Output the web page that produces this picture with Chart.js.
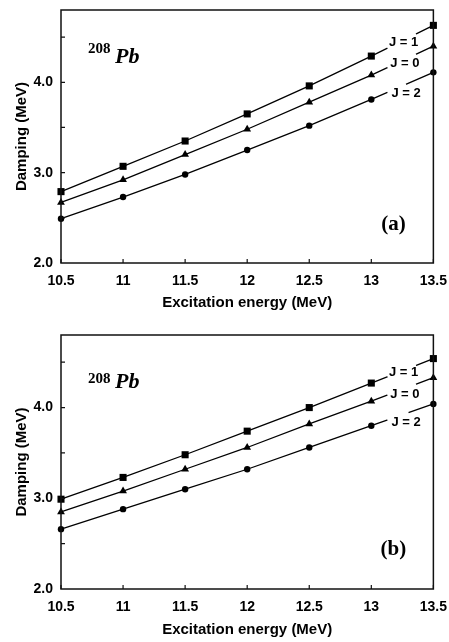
<!DOCTYPE html>
<html>
<head>
<meta charset="utf-8">
<script src="https://cdn.jsdelivr.net/npm/chart.js@4.4.0/dist/chart.umd.min.js"></script>
<style>
  html, body { margin: 0; padding: 0; background: #fff; }
  #wrap { position: relative; width: 449px; height: 642px; }
  canvas { position: absolute; left: 0; }
  #chartA { top: 0; }
  #chartB { top: 320px; }
</style>
</head>
<body>
<div id="wrap">
  <canvas id="chartA" width="449" height="320"></canvas>
  <canvas id="chartB" width="449" height="322"></canvas>
</div>
<script>
// excitation energies (MeV)
const energies = [10.5, 11, 11.5, 12, 12.5, 13, 13.5];

// panel (a) damping widths (MeV)
const dampA_J1 = [2.79, 3.07, 3.35, 3.65, 3.96, 4.29, 4.63];
const dampA_J0 = [2.67, 2.92, 3.20, 3.48, 3.78, 4.08, 4.40];
const dampA_J2 = [2.49, 2.73, 2.98, 3.25, 3.52, 3.81, 4.11];

// panel (b) damping widths (MeV)
const dampB_J1 = [2.99, 3.23, 3.48, 3.74, 4.00, 4.27, 4.54];
const dampB_J0 = [2.85, 3.08, 3.32, 3.56, 3.82, 4.07, 4.33];
const dampB_J2 = [2.66, 2.88, 3.10, 3.32, 3.56, 3.80, 4.04];

const seriesNames = ["J = 1", "J = 0", "J = 2"];
const xTicks = [10.5, 11, 11.5, 12, 12.5, 13, 13.5];
const yTicks = [2.5, 3.0, 3.5, 4.0, 4.5];
const yTickLabels = ["2.0", "3.0", "4.0"];

function pts(ys) {
    return energies.map((x, i) => ({ x: x, y: ys[i] }));
}

function interp(data, xv) {
    for (let i = 0; i < data.length - 1; i++) {
        const p = data[i], q = data[i + 1];
        if (xv >= p.x && xv <= q.x) {
            return p.y + (q.y - p.y) * (xv - p.x) / (q.x - p.x);
        }
    }
    return data[data.length - 1].y;
}

const extras = {
    id: "extras",
    afterDatasetsDraw(chart, args, opts) {
        const ctx = chart.ctx;
        const a = chart.chartArea;
        const xs = chart.scales.x, ys = chart.scales.y;
        ctx.save();

        // frame + inward ticks
        ctx.strokeStyle = "#111";
        ctx.lineWidth = 1.5;
        ctx.strokeRect(a.left, a.top, a.right - a.left, a.bottom - a.top);
        ctx.lineWidth = 1.2;
        ctx.beginPath();
        xTicks.forEach((v) => {
            const px = xs.getPixelForValue(v);
            ctx.moveTo(px, a.bottom);
            ctx.lineTo(px, a.bottom - 4);
        });
        yTicks.forEach((v) => {
            const py = ys.getPixelForValue(v);
            ctx.moveTo(a.left, py);
            ctx.lineTo(a.left + 4, py);
        });
        ctx.stroke();

        // J labels sitting in gaps of the lines
        opts.labels.forEach((lab) => {
            const data = chart.data.datasets[lab.ds].data;
            const x0 = lab.gap[0], x1 = lab.gap[1];
            ctx.strokeStyle = "#fff";
            ctx.lineWidth = 4;
            ctx.beginPath();
            ctx.moveTo(xs.getPixelForValue(x0), ys.getPixelForValue(interp(data, x0)));
            ctx.lineTo(xs.getPixelForValue(x1), ys.getPixelForValue(interp(data, x1)));
            ctx.stroke();
            ctx.fillStyle = "#000";
            ctx.font = "bold 13px 'Liberation Sans', Arial, sans-serif";
            ctx.textAlign = "center";
            ctx.textBaseline = "middle";
            ctx.fillText(seriesNames[lab.ds], xs.getPixelForValue(lab.x), ys.getPixelForValue(lab.y));
        });

        // nucleus label
        ctx.fillStyle = "#000";
        ctx.textAlign = "left";
        ctx.textBaseline = "alphabetic";
        ctx.font = "bold 15px 'Liberation Serif', 'Times New Roman', serif";
        ctx.fillText("208", a.left + 27, a.top + opts.supY);
        ctx.font = "italic bold 22px 'Liberation Serif', 'Times New Roman', serif";
        ctx.fillText("Pb", a.left + 54, a.top + opts.pbY);

        // panel tag
        ctx.textAlign = "center";
        ctx.font = "bold 21px 'Liberation Serif', 'Times New Roman', serif";
        ctx.fillText(opts.tag, a.right - 40, a.top + 220);
        ctx.restore();
    },
};

function makeChart(id, j1, j0, j2, axisH, padTop, xTitlePad, extraOpts) {
    const ctx = document.getElementById(id).getContext("2d");
    const common = {
        borderColor: "#000",
        backgroundColor: "#000",
        borderWidth: 1.3,
        pointBackgroundColor: "#000",
        pointBorderColor: "#000",
        pointBorderWidth: 0,
        fill: false,
        tension: 0,
        clip: false,
    };
    return new Chart(ctx, {
        type: "line",
        data: {
            datasets: [
                { ...common, label: seriesNames[0], data: pts(j1), pointStyle: "rect", pointRadius: 5 },
                { ...common, label: seriesNames[1], data: pts(j0), pointStyle: "triangle", pointRadius: 4.5 },
                { ...common, label: seriesNames[2], data: pts(j2), pointStyle: "circle", pointRadius: 3.2 },
            ],
        },
        options: {
            responsive: false,
            animation: false,
            layout: { padding: { left: 0, right: 15, top: padTop, bottom: 0 } },
            plugins: {
                legend: { display: false },
                tooltip: { enabled: false },
                extras: extraOpts,
            },
            scales: {
                x: {
                    type: "linear",
                    min: 10.5,
                    max: 13.5,
                    afterFit: (s) => { s.height = axisH; },
                    grid: { display: false, drawTicks: true, tickLength: 8 },
                    border: { display: false },
                    ticks: {
                        stepSize: 0.5,
                        maxRotation: 0,
                        autoSkip: false,
                        padding: 2,
                        color: "#000",
                        font: { family: "'Liberation Sans', Arial, sans-serif", size: 14, weight: "bold" },
                        callback: (v) => String(Number(v)),
                    },
                    title: {
                        display: true,
                        text: "Excitation energy (MeV)",
                        color: "#000",
                        padding: { top: 0, bottom: xTitlePad },
                        font: { family: "'Liberation Sans', Arial, sans-serif", size: 15, weight: "bold" },
                    },
                },
                y: {
                    min: 2.0,
                    max: 4.8,
                    afterFit: (s) => { s.width = 61; },
                    grid: { display: false, drawTicks: true, tickLength: 8 },
                    border: { display: false },
                    ticks: {
                        stepSize: 0.5,
                        padding: 0,
                        color: "#000",
                        font: { family: "'Liberation Sans', Arial, sans-serif", size: 14, weight: "bold" },
                        callback: (v) => {
                            const t = Number(v).toFixed(1);
                            return yTickLabels.includes(t) ? t : "";
                        },
                    },
                    title: {
                        display: true,
                        text: "Damping (MeV)",
                        color: "#000",
                        padding: { top: 13, bottom: 0 },
                        font: { family: "'Liberation Sans', Arial, sans-serif", size: 15, weight: "bold" },
                    },
                },
            },
        },
        plugins: [extras],
    });
}

makeChart("chartA", dampA_J1, dampA_J0, dampA_J2, 57, 10, 8, {
    tag: "(a)",
    supY: 43,
    pbY: 53,
    labels: [
        { ds: 0, x: 13.26, y: 4.44, gap: [13.13, 13.36] },
        { ds: 1, x: 13.27, y: 4.21, gap: [13.13, 13.36] },
        { ds: 2, x: 13.28, y: 3.88, gap: [13.13, 13.28] },
    ],
});

makeChart("chartB", dampB_J1, dampB_J0, dampB_J2, 53, 15, 3, {
    tag: "(b)",
    supY: 48,
    pbY: 53,
    labels: [
        { ds: 0, x: 13.26, y: 4.39, gap: [13.13, 13.36] },
        { ds: 1, x: 13.27, y: 4.14, gap: [13.13, 13.36] },
        { ds: 2, x: 13.28, y: 3.84, gap: [13.13, 13.30] },
    ],
});
</script>
</body>
</html>
